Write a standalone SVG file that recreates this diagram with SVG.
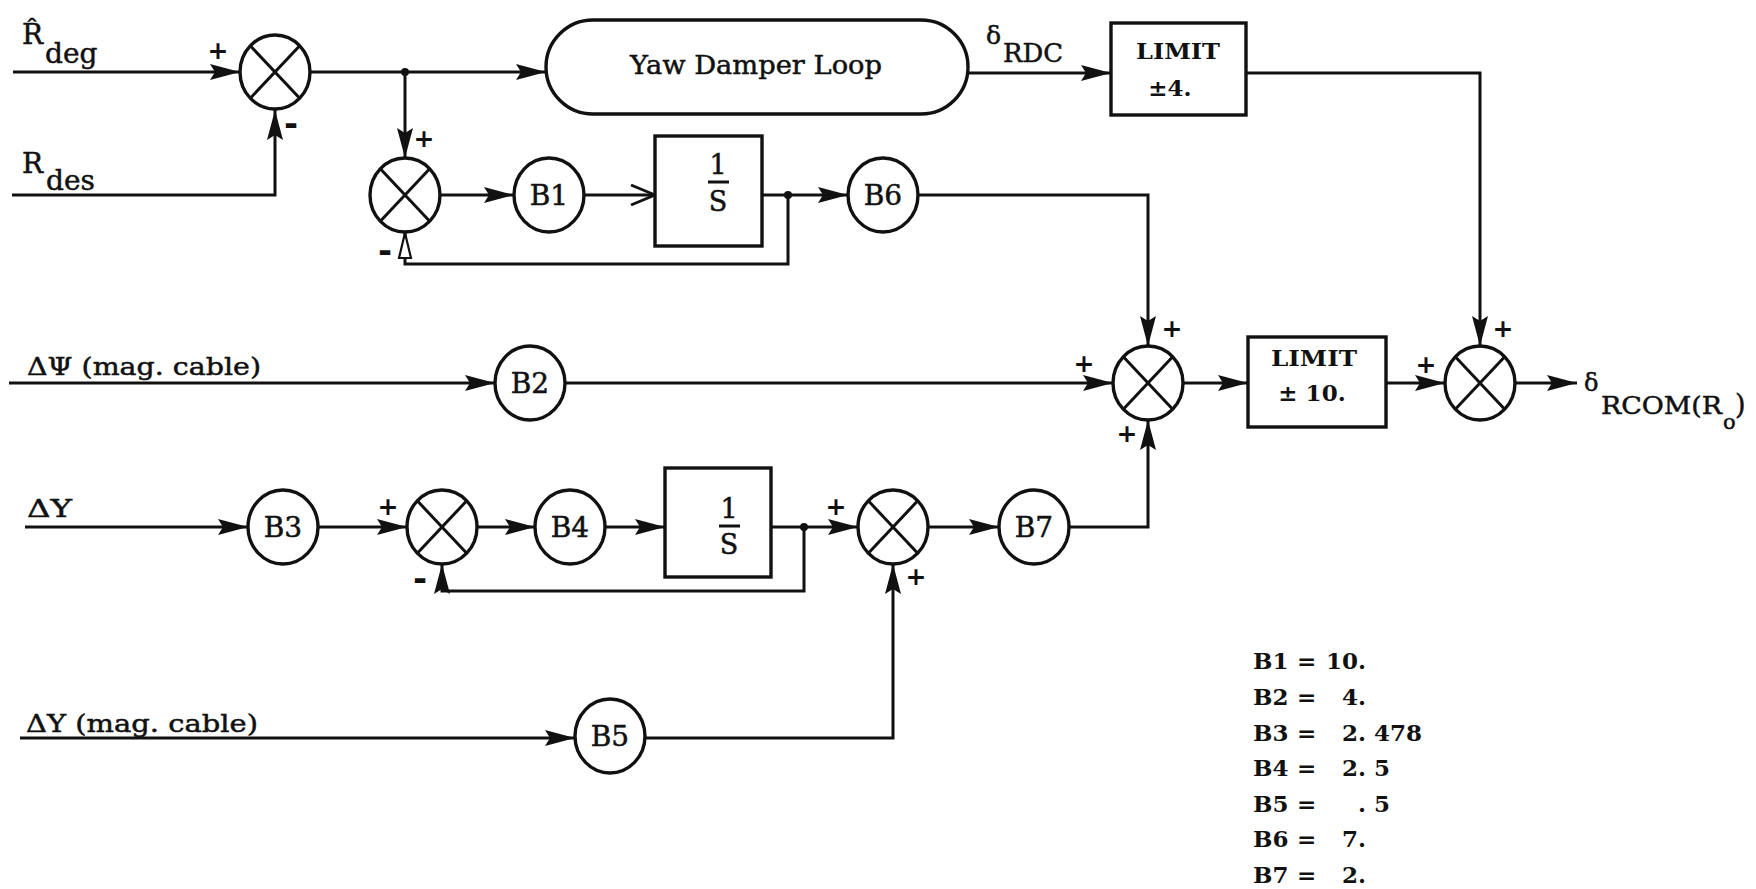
<svg xmlns="http://www.w3.org/2000/svg" width="1756" height="889" viewBox="0 0 1756 889">
<style>
.ln{fill:none;stroke:#111;stroke-width:3}
.nd{fill:#fff;stroke:#111;stroke-width:3.4}
.x{stroke:#111;stroke-width:3}
.t{font-family:"DejaVu Serif","Liberation Serif",serif;fill:#111;stroke:#111;stroke-width:0.5}
.nl{font-size:28px;text-anchor:middle}
.sg{font-family:"DejaVu Sans","Liberation Sans",sans-serif;font-size:25px;font-weight:bold;fill:#111;text-anchor:middle}
.mn{font-family:"DejaVu Sans","Liberation Sans",sans-serif;font-size:34px;font-weight:bold;fill:#111;text-anchor:middle}
.tb{font-family:"DejaVu Serif","Liberation Serif",serif;font-size:23px;font-weight:bold;fill:#111}
.bx{font-family:"DejaVu Serif","Liberation Serif",serif;font-size:23px;font-weight:bold;fill:#111;text-anchor:middle}
</style>
<defs>
<marker id="a" markerUnits="userSpaceOnUse" markerWidth="32" markerHeight="18" refX="30" refY="9" orient="auto" viewBox="0 0 32 18">
<path d="M0,1 L30,9 L0,17 L5,9 Z" fill="#111"/>
</marker>
<marker id="o" markerUnits="userSpaceOnUse" markerWidth="30" markerHeight="22" refX="27" refY="11" orient="auto" viewBox="0 0 30 22">
<path d="M3,1 L27,11 L3,21" fill="none" stroke="#111" stroke-width="2.8"/>
</marker>
<marker id="h" markerUnits="userSpaceOnUse" markerWidth="30" markerHeight="16" refX="28" refY="8" orient="auto" viewBox="0 0 30 16">
<path d="M2,2 L27,8 L2,14 Z" fill="#fff" stroke="#111" stroke-width="2.2"/>
</marker>
</defs>

<g id="connectors">
<path class="ln" d="M13,72 H240" marker-end="url(#a)"/>
<path class="ln" d="M12,195 H275 V110" marker-end="url(#a)"/>
<path class="ln" d="M310,72 H546" marker-end="url(#a)"/>
<path class="ln" d="M405,72 V158" marker-end="url(#a)"/>
<path class="ln" d="M440,195 H514" marker-end="url(#a)"/>
<path class="ln" d="M584,195 H655" marker-end="url(#o)"/>
<path class="ln" d="M762,195 H848" marker-end="url(#a)"/>
<path class="ln" d="M788,195 V264 H405 V232" marker-end="url(#h)"/>
<path class="ln" d="M968,73 H1111" marker-end="url(#a)"/>
<path class="ln" d="M1246,73 H1480 V346" marker-end="url(#a)"/>
<path class="ln" d="M918,195 H1148 V346" marker-end="url(#a)"/>
<path class="ln" d="M9,383 H495" marker-end="url(#a)"/>
<path class="ln" d="M565,383 H1113" marker-end="url(#a)"/>
<path class="ln" d="M1183,383 H1248" marker-end="url(#a)"/>
<path class="ln" d="M1386,383 H1445" marker-end="url(#a)"/>
<path class="ln" d="M1515,383 H1577" marker-end="url(#a)"/>
<path class="ln" d="M25,527 H248" marker-end="url(#a)"/>
<path class="ln" d="M318,527 H407" marker-end="url(#a)"/>
<path class="ln" d="M477,527 H535" marker-end="url(#a)"/>
<path class="ln" d="M605,527 H665" marker-end="url(#a)"/>
<path class="ln" d="M771,527 H858" marker-end="url(#a)"/>
<path class="ln" d="M804,527 V591 H442 V564" marker-end="url(#a)"/>
<path class="ln" d="M928,527 H999" marker-end="url(#a)"/>
<path class="ln" d="M1069,527 H1148 V420" marker-end="url(#a)"/>
<path class="ln" d="M20,738 H575" marker-end="url(#a)"/>
<path class="ln" d="M645,738 H893 V564" marker-end="url(#a)"/>
<circle cx="405" cy="72" r="4" fill="#111"/>
<circle cx="788" cy="195" r="4" fill="#111"/>
<circle cx="804" cy="527" r="4" fill="#111"/>
</g>

<g id="labels">
<text class="t" x="22" y="44" font-size="28">R&#770;<tspan x="45" y="63">deg</tspan></text>
<text class="t" x="22" y="173" font-size="28">R<tspan x="46" y="190">des</tspan></text>
<text class="t" x="27" y="375" font-size="25" textLength="234" lengthAdjust="spacingAndGlyphs">ΔΨ (mag. cable)</text>
<text class="t" x="27" y="517" font-size="25" textLength="45" lengthAdjust="spacingAndGlyphs">ΔY</text>
<text class="t" x="26" y="732" font-size="25" textLength="232" lengthAdjust="spacingAndGlyphs">ΔY (mag. cable)</text>
<text class="t" x="986" y="44" font-size="25">δ</text>
<text class="t" x="1003" y="62" font-size="26" textLength="60" lengthAdjust="spacingAndGlyphs">RDC</text>
<text class="t" x="1584" y="391" font-size="24">δ</text>
<text class="t" x="1601" y="414" font-size="25" textLength="121" lengthAdjust="spacingAndGlyphs">RCOM(R</text>
<text class="t" x="1723" y="429" font-size="21">o</text>
<text class="t" x="1735" y="414" font-size="27">)</text>
</g>

<g id="signs">
<text class="sg" x="218" y="59">+</text>
<text class="mn" x="291" y="135">-</text>
<text class="sg" x="424" y="147">+</text>
<text class="mn" x="385" y="262">-</text>
<text class="sg" x="1172" y="337">+</text>
<text class="sg" x="1084" y="372">+</text>
<text class="sg" x="1127" y="442">+</text>
<text class="sg" x="1503" y="337">+</text>
<text class="sg" x="1426" y="373">+</text>
<text class="sg" x="388" y="515">+</text>
<text class="mn" x="420" y="590">-</text>
<text class="sg" x="836" y="515">+</text>
<text class="sg" x="916" y="585">+</text>
</g>

<g id="sum1"><ellipse class="nd" cx="275" cy="72" rx="35" ry="37"/><path class="x" d="M250.3,45.8 L299.7,98.2 M299.7,45.8 L250.3,98.2"/></g>
<g id="sum2"><ellipse class="nd" cx="405" cy="195" rx="35" ry="37"/><path class="x" d="M380.3,168.8 L429.7,221.2 M429.7,168.8 L380.3,221.2"/></g>
<g id="sum3"><ellipse class="nd" cx="1148" cy="383" rx="35" ry="37"/><path class="x" d="M1123.3,356.8 L1172.7,409.2 M1172.7,356.8 L1123.3,409.2"/></g>
<g id="sum4"><ellipse class="nd" cx="1480" cy="383" rx="35" ry="37"/><path class="x" d="M1455.3,356.8 L1504.7,409.2 M1504.7,356.8 L1455.3,409.2"/></g>
<g id="sum5"><ellipse class="nd" cx="442" cy="527" rx="35" ry="37"/><path class="x" d="M417.3,500.8 L466.7,553.2 M466.7,500.8 L417.3,553.2"/></g>
<g id="sum6"><ellipse class="nd" cx="893" cy="527" rx="35" ry="37"/><path class="x" d="M868.3,500.8 L917.7,553.2 M917.7,500.8 L868.3,553.2"/></g>

<g id="B1"><ellipse class="nd" cx="549" cy="195" rx="35" ry="37"/><text class="t nl" x="549" y="205">B1</text></g>
<g id="B6"><ellipse class="nd" cx="883" cy="195" rx="35" ry="37"/><text class="t nl" x="883" y="205">B6</text></g>
<g id="B2"><ellipse class="nd" cx="530" cy="383" rx="35" ry="37"/><text class="t nl" x="530" y="393">B2</text></g>
<g id="B3"><ellipse class="nd" cx="283" cy="527" rx="35" ry="37"/><text class="t nl" x="283" y="537">B3</text></g>
<g id="B4"><ellipse class="nd" cx="570" cy="527" rx="35" ry="37"/><text class="t nl" x="570" y="537">B4</text></g>
<g id="B7"><ellipse class="nd" cx="1034" cy="527" rx="35" ry="37"/><text class="t nl" x="1034" y="537">B7</text></g>
<g id="B5"><ellipse class="nd" cx="610" cy="736" rx="35" ry="37"/><text class="t nl" x="610" y="746">B5</text></g>

<g id="yaw"><rect class="nd" x="546" y="20" width="422" height="94" rx="47" ry="47"/><text class="t" x="630" y="74" font-size="26" textLength="252" lengthAdjust="spacingAndGlyphs">Yaw Damper Loop</text></g>
<g id="limit4"><rect class="nd" x="1111" y="23" width="135" height="92"/><text class="bx" x="1178" y="59" textLength="84" lengthAdjust="spacingAndGlyphs">LIMIT</text><text class="bx" x="1170" y="96">±4.</text></g>
<g id="limit10"><rect class="nd" x="1248" y="337" width="138" height="90"/><text class="bx" x="1314" y="366" textLength="86" lengthAdjust="spacingAndGlyphs">LIMIT</text><text class="bx" x="1312" y="401">± 10.</text></g>
<g id="int1"><rect class="nd" x="655" y="136" width="107" height="110"/><text class="t" x="718" y="174" font-size="27" text-anchor="middle">1</text><path class="x" d="M708,182 H729" stroke-width="4"/><text class="t" x="718" y="211" font-size="27" text-anchor="middle">S</text></g>
<g id="int2"><rect class="nd" x="665" y="468" width="106" height="109"/><text class="t" x="729" y="518" font-size="27" text-anchor="middle">1</text><path class="x" d="M719,526 H740" stroke-width="4"/><text class="t" x="729" y="554" font-size="27" text-anchor="middle">S</text></g>

<g id="table">
<text class="tb" y="669"><tspan x="1253">B1 </tspan><tspan x="1297">= </tspan><tspan x="1326">10.</tspan></text>
<text class="tb" y="705"><tspan x="1253">B2 </tspan><tspan x="1297">= </tspan><tspan x="1342">4.</tspan></text>
<text class="tb" y="741"><tspan x="1253">B3 </tspan><tspan x="1297">= </tspan><tspan x="1342">2. 478</tspan></text>
<text class="tb" y="776"><tspan x="1253">B4 </tspan><tspan x="1297">= </tspan><tspan x="1342">2. 5</tspan></text>
<text class="tb" y="812"><tspan x="1253">B5 </tspan><tspan x="1297">= </tspan><tspan x="1358">. 5</tspan></text>
<text class="tb" y="847"><tspan x="1253">B6 </tspan><tspan x="1297">= </tspan><tspan x="1342">7.</tspan></text>
<text class="tb" y="883"><tspan x="1253">B7 </tspan><tspan x="1297">= </tspan><tspan x="1342">2.</tspan></text>
</g>
</svg>
